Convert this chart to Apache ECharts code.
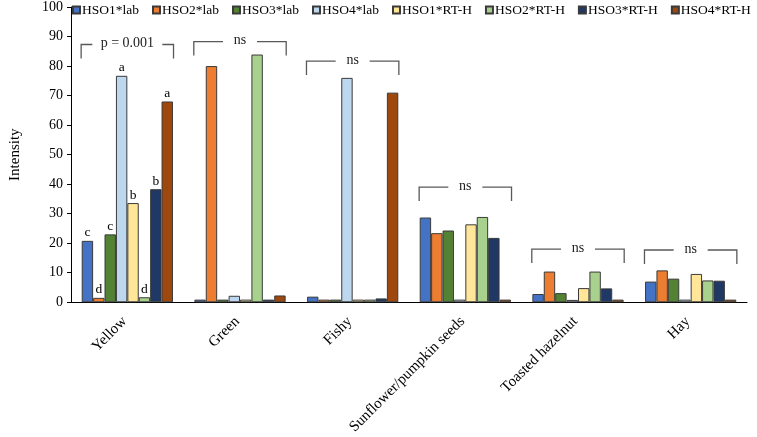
<!DOCTYPE html>
<html>
<head>
<meta charset="utf-8">
<script src="https://cdn.jsdelivr.net/npm/echarts@6/dist/echarts.min.js"></script>
<style>html,body{margin:0;padding:0;background:#fff}#c{width:757px;height:437px}</style>
</head>
<body>
<div id="c"></div>
<script>
const categories = ['Yellow', 'Green', 'Fishy', 'Sunflower/pumpkin seeds', 'Toasted hazelnut', 'Hay'];
const seriesNames = ['HSO1*lab', 'HSO2*lab', 'HSO3*lab', 'HSO4*lab', 'HSO1*RT-H', 'HSO2*RT-H', 'HSO3*RT-H', 'HSO4*RT-H'];
const hso1Lab  = [20.8, 0.9, 1.9, 28.7, 2.8, 7.0];
const hso2Lab  = [1.5, 80.0, 0.9, 23.4, 10.4, 10.8];
const hso3Lab  = [23.0, 0.9, 0.9, 24.3, 3.1, 8.0];
const hso4Lab  = [76.7, 2.2, 76.0, 0.9, 0.8, 0.9];
const hso1RTH  = [33.6, 0.9, 0.9, 26.4, 4.8, 9.6];
const hso2RTH  = [1.7, 83.9, 0.9, 28.9, 10.4, 7.4];
const hso3RTH  = [38.3, 0.9, 1.3, 21.8, 4.7, 7.3];
const hso4RTH  = [68.0, 2.3, 71.0, 0.9, 0.9, 0.9];
const yellowLetters = ['c', 'd', 'c', 'a', 'b', 'd', 'b', 'a'];
const bracketTop = [87.3, 88.3, 81.7, 39.0, 18.0, 17.7];
const bracketText = ['p = 0.001', 'ns', 'ns', 'ns', 'ns', 'ns'];
const bracketDrop = 4.7;
const yTicks = [0, 10, 20, 30, 40, 50, 60, 70, 80, 90, 100];

const allValues = [hso1Lab, hso2Lab, hso3Lab, hso4Lab, hso1RTH, hso2RTH, hso3RTH, hso4RTH];
const colors = ['#4472C4', '#ED7D31', '#548235', '#BDD7EE', '#FFE699', '#A9D18E', '#203864', '#9E480E'];
const FONT = '"Liberation Serif", "Times New Roman", serif';

const chart = echarts.init(document.getElementById('c'), null, {renderer: 'canvas'});

const barSeries = seriesNames.map((name, si) => ({
  name: name,
  type: 'bar',
  barGap: '0%',
  barCategoryGap: '19%',
  itemStyle: {color: colors[si], borderColor: '#3a3a3a', borderWidth: 1},
  data: allValues[si].map((v, ci) => ci === 0 ? {
    value: v,
    label: {show: true, position: 'top', distance: 1, formatter: yellowLetters[si],
      fontFamily: FONT, fontSize: 13.5, color: '#000'}
  } : v)
}));

const bracketSeries = {
  type: 'custom',
  silent: true,
  z: 10,
  data: bracketTop.map((t, i) => [i, t]),
  encode: {x: 0, y: 1},
  renderItem: function (params, api) {
    const i = params.dataIndex;
    const top = api.coord([i, bracketTop[i]]);
    const bot = api.coord([i, bracketTop[i] - bracketDrop]);
    const bw = api.size([1, 0])[0];
    const half = bw * 0.41;
    const cx = top[0];
    const gap = bracketText[i] === 'ns' ? 17 : 35;
    const lineStyle = {stroke: '#595959', lineWidth: 1.3, fill: null};
    return {
      type: 'group',
      children: [
        {type: 'polyline', shape: {points: [[cx - half, bot[1]], [cx - half, top[1]], [cx - gap, top[1]]]}, style: lineStyle},
        {type: 'polyline', shape: {points: [[cx + gap, top[1]], [cx + half, top[1]], [cx + half, bot[1]]]}, style: lineStyle},
        {type: 'text', style: {text: bracketText[i], x: cx, y: top[1] - 1, align: 'center', verticalAlign: 'middle',
          font: '14px ' + FONT, fill: '#222'}}
      ]
    };
  }
};

chart.setOption({
  animation: false,
  backgroundColor: '#fff',
  grid: {left: 57, right: 10, top: 4, bottom: 133, containLabel: false},
  legend: {
    data: seriesNames,
    left: 72, top: 3, padding: 0, width: 700,
    itemWidth: 7, itemHeight: 7, itemGap: 13,
    icon: 'rect',
    textStyle: {fontFamily: FONT, fontSize: 13.5, color: '#000', padding: [0, 0, 0, -3]}
  },
  xAxis: {
    type: 'category',
    data: categories,
    axisLine: {lineStyle: {color: '#000', width: 1}},
    axisTick: {show: false},
    axisLabel: {rotate: 45, margin: 14, padding: [0, 4, 0, 0], fontFamily: FONT, fontSize: 15, color: '#000', interval: 0}
  },
  yAxis: {
    type: 'value',
    min: yTicks[0], max: yTicks[yTicks.length - 1], interval: 10,
    name: 'Intensity', nameLocation: 'middle', nameGap: 48, nameRotate: 90,
    nameTextStyle: {fontFamily: FONT, fontSize: 15, color: '#000'},
    axisLine: {show: true, lineStyle: {color: '#000', width: 1}},
    axisTick: {show: true, length: 4, inside: false, lineStyle: {color: '#000'}},
    splitLine: {show: false},
    axisLabel: {fontFamily: FONT, fontSize: 14, color: '#000', margin: 8}
  },
  series: barSeries.concat([bracketSeries])
});
</script>
</body>
</html>
